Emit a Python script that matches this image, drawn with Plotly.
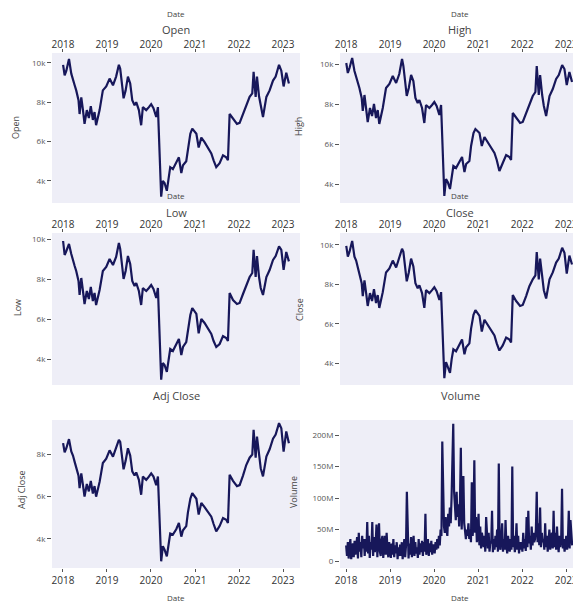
import pandas as pd
import plotly.graph_objects as go

# ---------------------------------------------------------------- data
price_dates = [
    "2018-01-02", "2018-01-15", "2018-01-29", "2018-02-20", "2018-03-11", "2018-03-25", "2018-04-08", "2018-04-21", "2018-05-10", "2018-05-19",
    "2018-06-02", "2018-06-16", "2018-06-29", "2018-07-18", "2018-08-04", "2018-08-20", "2018-09-06", "2018-09-20", "2018-10-03", "2018-11-01",
    "2018-11-28", "2018-12-26", "2019-01-23", "2019-02-20", "2019-03-18", "2019-04-10", "2019-04-21", "2019-05-08", "2019-05-19", "2019-06-05",
    "2019-06-24", "2019-07-13", "2019-07-30", "2019-08-18", "2019-09-01", "2019-09-23", "2019-10-12", "2019-10-26", "2019-11-23", "2019-12-15",
    "2020-01-03", "2020-01-22", "2020-02-14", "2020-02-28", "2020-03-07", "2020-03-18", "2020-03-26", "2020-04-09", "2020-04-23", "2020-05-12",
    "2020-05-26", "2020-06-09", "2020-07-01", "2020-07-29", "2020-08-20", "2020-09-09", "2020-09-23", "2020-10-20", "2020-11-03", "2020-11-23",
    "2020-12-09", "2021-01-12", "2021-01-31", "2021-02-22", "2021-03-21", "2021-04-18", "2021-05-16", "2021-06-04", "2021-06-26", "2021-07-24",
    "2021-08-21", "2021-09-17", "2021-10-01", "2021-10-15", "2021-11-12", "2021-12-15", "2022-01-06", "2022-02-03", "2022-03-02", "2022-03-30",
    "2022-04-21", "2022-05-02", "2022-05-19", "2022-05-30", "2022-06-16", "2022-06-30", "2022-07-19", "2022-08-16", "2022-09-12", "2022-10-10",
    "2022-11-01", "2022-11-29", "2022-12-18", "2023-01-06", "2023-01-28", "2023-02-19",
]

open_vals = [
    9900, 9370, 9600, 10200, 9450, 9200, 8860, 8600, 8100, 7400,
    8250, 7600, 6900, 7600, 7200, 7800, 7100, 7500, 6830, 7600,
    8600, 8800, 9200, 8860, 9300, 9900, 9700, 8800, 8200, 8600,
    9300, 8950, 8100, 7850, 8000, 7600, 6830, 7750, 7600, 7750,
    7900, 7700, 7250, 7750, 6400, 4700, 3200, 4000, 3900, 3500,
    4200, 4700, 4600, 4900, 5200, 4400, 4800, 5000, 5700, 6400,
    6660, 6400, 5700, 6200, 5970, 5700, 5400, 5050, 4700, 4900,
    5300, 5200, 5050, 7400, 7150, 6900, 6950, 7400, 7900, 8270,
    8450, 9540, 8270, 9300, 8300, 7750, 7250, 8270, 8600, 9100,
    9300, 9900, 9600, 8800, 9500, 8950,
]

high_vals = [
    10050, 9550, 9800, 10300, 9650, 9400, 9050, 8800, 8300, 7650,
    8450, 7800, 7100, 7800, 7400, 8000, 7300, 7700, 7000, 7800,
    8800, 9000, 9400, 9050, 9500, 10250, 9900, 9000, 8400, 8800,
    9450, 9150, 8300, 8050, 8200, 7800, 7050, 7950, 7800, 7950,
    8100, 7900, 7450, 7950, 6700, 5000, 3400, 4250, 4100, 3750,
    4400, 4900, 4800, 5100, 5350, 4600, 5000, 5150, 5900, 6550,
    6750, 6550, 5900, 6350, 6100, 5850, 5550, 5200, 4650, 5050,
    5450, 5350, 5200, 7550, 7300, 7050, 7100, 7550, 8050, 8400,
    8600, 9900, 8450, 9450, 8450, 7900, 7400, 8400, 8750, 9250,
    9450, 9950, 9750, 8950, 9600, 9100,
]

low_vals = [
    9900, 9200, 9400, 9750, 9250, 9000, 8650, 8400, 7900, 7200,
    8050, 7400, 6750, 7400, 7000, 7600, 6900, 7300, 6700, 7450,
    8400, 8600, 9000, 8700, 9100, 9800, 9500, 8600, 8000, 8400,
    9150, 8750, 7900, 7650, 7800, 7400, 6700, 7550, 7400, 7550,
    7700, 7500, 7050, 7550, 6100, 4400, 2970, 3800, 3700, 3360,
    4000, 4500, 4400, 4700, 5000, 4200, 4600, 4850, 5500, 6200,
    6550, 6250, 5280, 6000, 5800, 5550, 5250, 4900, 4600, 4750,
    5150, 5050, 4900, 7300, 6950, 6750, 6800, 7250, 7700, 8100,
    8300, 9460, 8100, 9150, 8100, 7550, 7200, 8100, 8450, 8950,
    9150, 9630, 9450, 8460, 9350, 8880,
]

close_vals = [
    9950, 9400, 9650, 10200, 9400, 9200, 8850, 8550, 8050, 7400,
    8200, 7550, 6900, 7550, 7150, 7750, 7050, 7450, 6800, 7600,
    8600, 8800, 9200, 8850, 9300, 9800, 9650, 8750, 8150, 8600,
    9300, 8900, 8050, 7800, 7950, 7550, 6800, 7700, 7550, 7700,
    7850, 7650, 7200, 7600, 6200, 4500, 3240, 4050, 3850, 3500,
    4200, 4700, 4600, 4900, 5200, 4450, 4800, 5000, 5750, 6450,
    6690, 6400, 5600, 6200, 5950, 5700, 5400, 5000, 4640, 4900,
    5300, 5200, 5050, 7450, 7150, 6900, 6950, 7400, 7900, 8250,
    8450, 9630, 8250, 9300, 8250, 7700, 7280, 8250, 8600, 9100,
    9300, 9850, 9600, 8540, 9450, 9000,
]

adj_close_vals = [
    8540, 8100, 8300, 8730, 8150, 7950, 7650, 7400, 7000, 6400,
    7100, 6550, 6000, 6600, 6250, 6750, 6150, 6500, 6000, 6700,
    7600, 7800, 8200, 7900, 8300, 8700, 8600, 7800, 7300, 7700,
    8300, 7950, 7200, 7000, 7150, 6800, 6090, 6950, 6800, 6950,
    7100, 6950, 6550, 6960, 5650, 4100, 2930, 3650, 3480, 3160,
    3800, 4250, 4200, 4450, 4750, 4100, 4400, 4600, 5250, 5900,
    6170, 5900, 5150, 5700, 5500, 5300, 5050, 4700, 4350, 4600,
    4980, 4900, 4750, 7040, 6750, 6500, 6550, 7000, 7500, 7850,
    8000, 9170, 7850, 8850, 7850, 7350, 6960, 7900, 8250, 8750,
    8950, 9490, 9250, 8140, 9100, 8540,
]

# weekly traded volume, millions of shares (weeks starting 2018-01-01)
volume_start = "2018-01-01"
volume_millions = [
    # 2018
    25, 8, 30, 4, 22, 35, 3, 18, 28, 6, 32, 10, 24,
    38, 4, 45, 15, 30, 6, 40, 20, 35, 8, 35, 15, 62,
    12, 40, 5, 30, 18, 62, 8, 38, 14, 28, 58, 6, 35,
    60, 15, 8, 33, 40, 5, 28, 40, 10, 45, 20, 6, 30,
    # 2019
    20, 5, 28, 10, 35, 6, 25, 12, 30, 3, 22, 8, 26,
    8, 30, 3, 20, 35, 6, 25, 110, 45, 4, 28, 10, 38,
    6, 24, 40, 8, 30, 12, 22, 5, 35, 10, 28, 14, 32,
    8, 30, 15, 75, 10, 25, 35, 8, 28, 14, 32, 10, 25,
    # 2020
    25, 12, 30, 18, 35, 20, 40, 25, 50, 40, 190, 80, 55,
    45, 70, 50, 40, 75, 55, 85, 60, 100, 150, 218, 110, 80,
    65, 110, 70, 90, 55, 95, 180, 50, 80, 135, 60, 45, 35,
    50, 40, 60, 35, 50, 30, 125, 40, 60, 160, 45, 70, 30,
    # 2021
    40, 75, 25, 55, 20, 45, 30, 22, 40, 15, 70, 30, 20,
    45, 15, 30, 28, 80, 14, 35, 18, 40, 22, 50, 15, 155,
    25, 18, 40, 60, 15, 35, 18, 65, 25, 12, 40, 20, 15,
    35, 18, 150, 22, 40, 14, 28, 60, 18, 40, 12, 30, 18,
    # 2022
    30, 15, 45, 20, 35, 16, 70, 22, 80, 28, 40, 18, 55,
    25, 45, 30, 35, 50, 110, 30, 60, 25, 85, 22, 45, 30,
    35, 18, 60, 22, 40, 15, 35, 50, 18, 30, 45, 20, 80,
    22, 45, 18, 55, 28, 14, 40, 22, 35, 115, 20, 35, 15,
    # 2023
    30, 40, 18, 35, 80, 20, 65, 40, 25,
]

year_ticks = ["2018-01-01", "2019-01-01", "2020-01-01", "2021-01-01", "2022-01-01", "2023-01-01"]
year_labels = ["2018", "2019", "2020", "2021", "2022", "2023"]

# ---------------------------------------------------------------- layout helpers
W, H = 573, 601


def fx(px):
    return px / W


def fy(py):
    return 1 - py / H


volume_dates = pd.date_range(volume_start, periods=len(volume_millions), freq="W-MON")
volume_vals = [v * 1e6 for v in volume_millions]

LINE = "#17175a"
BG = "#EEEEF7"
TXT = "#444"

col_dom = {1: [fx(52), fx(300)], 2: [fx(340), 1.0]}
row_dom = {1: [fy(203), fy(53)], 2: [fy(385), fy(233)], 3: [fy(568), fy(420)]}
col_xrange = {1: ["2017-10-02", "2023-05-22"], 2: ["2017-11-11", "2023-02-27"]}

panels = [
    ("Open", price_dates, open_vals, 1, 1, [2880, 10500], 2000),
    ("High", price_dates, high_vals, 1, 2, [3050, 10550], 2000),
    ("Low", price_dates, low_vals, 2, 1, [2700, 10300], 2000),
    ("Close", price_dates, close_vals, 2, 2, [2890, 10600], 2000),
    ("Adj Close", price_dates, adj_close_vals, 3, 1, [2610, 9640], 2000),
    ("Volume", volume_dates, volume_vals, 3, 2, [-11e6, 224e6], 50e6),
]

# pixel anchors for the text around each panel
title_y = {1: 30, 2: 212, 3: 395}
date_y = {1: 14, 2: 196, 3: 597}
ytitle_pos = {(1, 1): (15, 128), (1, 2): (298, 127), (2, 1): (17, 308),
              (2, 2): (299, 310), (3, 1): (21, 490), (3, 2): (293, 492)}
col_cx = {1: 176, 2: 460}

fig = go.Figure()
layout = dict(
    width=W, height=H,
    margin=dict(l=0, r=0, t=0, b=0, autoexpand=False),
    paper_bgcolor="white",
    plot_bgcolor=BG,
    showlegend=False,
    font=dict(family="Open Sans, sans-serif", color=TXT),
    annotations=[],
)


def label(text, px, py, size, angle=0):
    return dict(
        text=text, x=fx(px), y=fy(py), xref="paper", yref="paper",
        xanchor="center", yanchor="middle", showarrow=False,
        textangle=angle, font=dict(size=size, color=TXT),
    )


for i, (name, xs, ys, row, col, yr, dt) in enumerate(panels, start=1):
    sfx = "" if i == 1 else str(i)
    fig.add_trace(go.Scatter(
        x=xs, y=ys, mode="lines", name=name,
        line=dict(color=LINE, width=2.2),
        xaxis="x" + sfx, yaxis="y" + sfx,
    ))
    layout["xaxis" + sfx] = dict(
        domain=col_dom[col], anchor="y" + sfx, type="date",
        range=col_xrange[col], automargin=False,
        side="top" if row < 3 else "bottom",
        tickvals=year_ticks, ticktext=year_labels,
        ticklabeloverflow="allow",
        ticklabelstandoff=-3 if row < 3 else 0,
        tickfont=dict(size=10, color="#333"),
        ticks="outside", ticklen=3, tickcolor="#555", tickwidth=1,
        showgrid=False, zeroline=False, showline=False,
    )
    layout["yaxis" + sfx] = dict(
        domain=row_dom[row], anchor="x" + sfx, automargin=False,
        range=yr, dtick=dt, tickformat="~s",
        tickfont=dict(size=8, color="#555"),
        ticks="outside", ticklen=4, tickcolor="#555", tickwidth=1,
        showgrid=False, zeroline=False, showline=False,
    )
    cx = col_cx[col]
    layout["annotations"].append(label(name, cx, title_y[row], 11))
    layout["annotations"].append(label("Date", cx, date_y[row], 8))
    tx, ty = ytitle_pos[(row, col)]
    layout["annotations"].append(label(name, tx, ty, 9, angle=-90))

fig.update_layout(**layout)
fig.write_html("out.html")
